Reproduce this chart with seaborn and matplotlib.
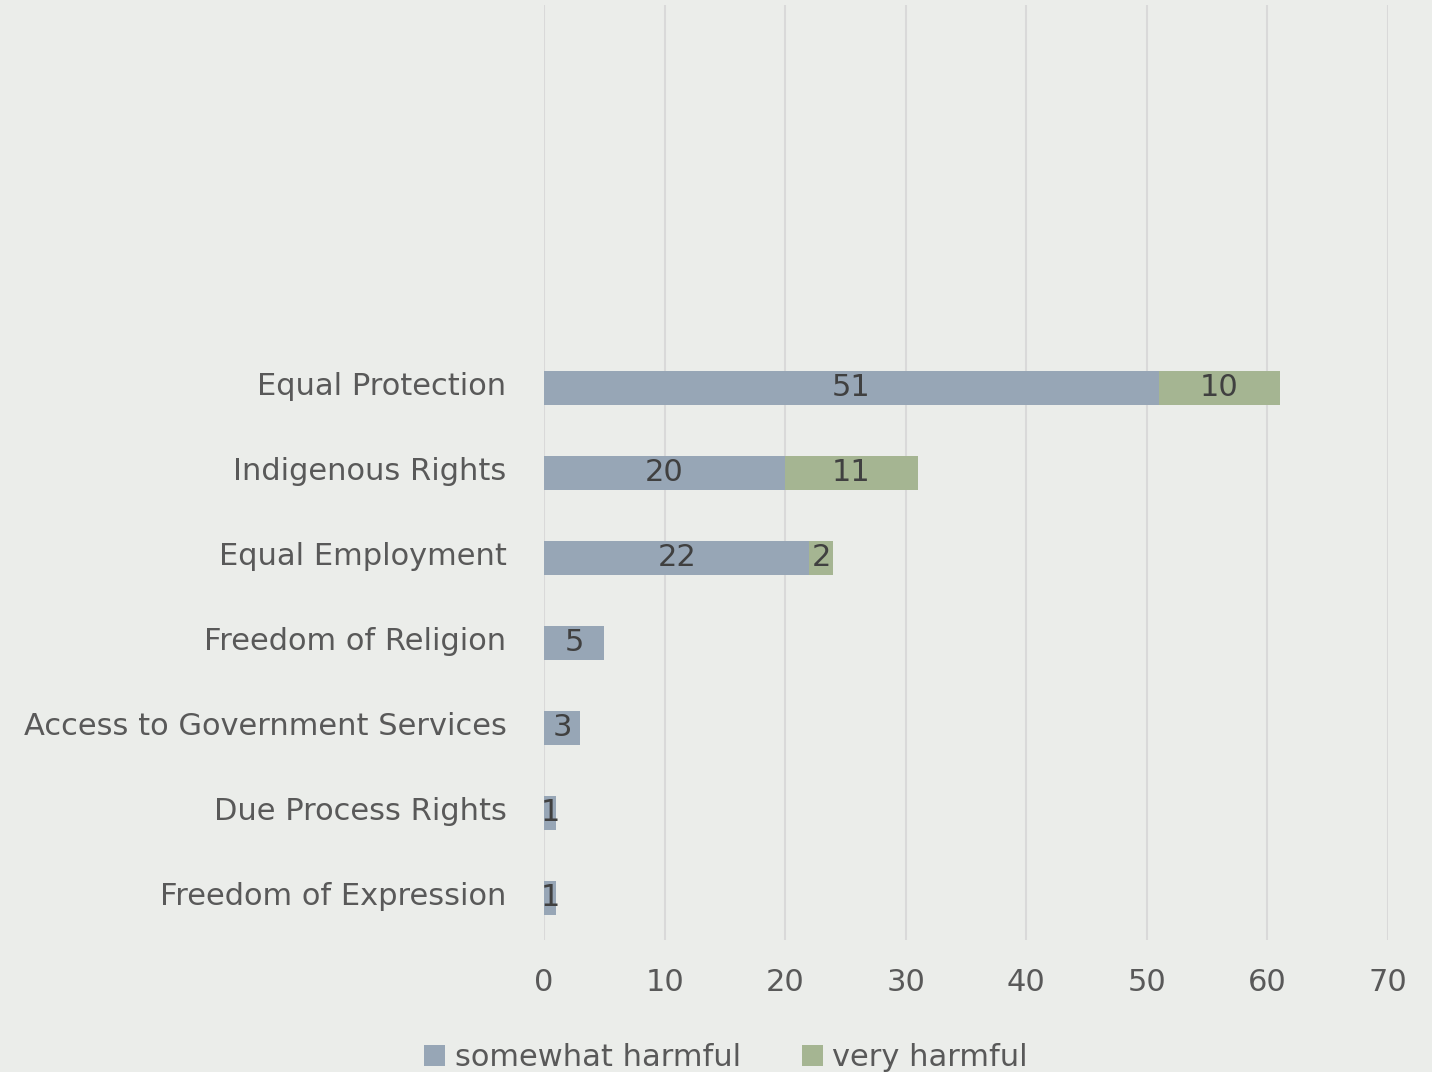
import matplotlib
matplotlib.use("Agg")
import matplotlib.pyplot as plt
import matplotlib.transforms as mtransforms
import seaborn as sns
import pandas as pd
from matplotlib.patches import Patch

categories = ["Equal Protection", "Indigenous Rights", "Equal Employment",
              "Freedom of Religion", "Access to Government Services",
              "Due Process Rights", "Freedom of Expression"]
somewhat_harmful = [51, 20, 22, 5, 3, 1, 1]
very_harmful = [10, 11, 2, 0, 0, 0, 0]
x_ticks = [0, 10, 20, 30, 40, 50, 60, 70]

BG = "#EBEDEA"
BLUE = "#97A6B6"
GREEN = "#A5B592"
TICK_C = "#595959"
LAB_C = "#404040"
FS = 22

sns.set_theme(style="white")
plt.rcParams['font.family'] = ['Verdana', 'DejaVu Sans']

df = pd.DataFrame({"category": categories,
                   "somewhat": somewhat_harmful,
                   "very": very_harmful})
df["total"] = df["somewhat"] + df["very"]

fig = plt.figure(figsize=(14.32, 10.72), dpi=100, facecolor=BG)
ax = fig.add_axes([0.3799, 0.1231, 0.5894, 0.8722])
ax.set_facecolor(BG)

for xv in x_ticks:
    ax.axvline(xv, color="#D9D9D9", lw=1.5, zorder=0)

sns.barplot(data=df, y="category", x="total", order=categories, color=GREEN,
            width=0.4, orient="h", ax=ax, saturation=1, zorder=2, linewidth=0)
sns.barplot(data=df, y="category", x="somewhat", order=categories, color=BLUE,
            width=0.4, orient="h", ax=ax, saturation=1, zorder=3, linewidth=0)

for i, (s, v) in enumerate(zip(somewhat_harmful, very_harmful)):
    if s > 0:
        ax.text(s / 2, i, str(s), ha="center", va="center", fontsize=FS,
                color=LAB_C, zorder=5)
    if v > 0:
        ax.text(s + v / 2, i, str(v), ha="center", va="center", fontsize=FS,
                color=LAB_C, zorder=5)

ax.set_xlim(0, 70)
ax.set_ylim(6.5, -4.5)
ax.set_xticks(x_ticks)
ax.set_xticklabels([str(t) for t in x_ticks])
ax.set_xlabel("")
ax.set_ylabel("")
ax.tick_params(axis="x", length=0, pad=20, labelsize=FS, labelcolor=TICK_C)
ax.tick_params(axis="y", length=0, pad=27, labelsize=FS, labelcolor=TICK_C)
offset = mtransforms.ScaledTranslation(0, 4 / 100, fig.dpi_scale_trans)
for lbl in ax.get_yticklabels():
    lbl.set_transform(lbl.get_transform() + offset)
for sp in ax.spines.values():
    sp.set_visible(False)

handles = [Patch(facecolor=BLUE, edgecolor="none", label="somewhat harmful"),
           Patch(facecolor=GREEN, edgecolor="none", label="very harmful")]
leg = fig.legend(handles=handles, loc="lower center", ncol=2,
                 bbox_to_anchor=(0.507, -0.026), frameon=False, fontsize=FS,
                 handlelength=0.7, handleheight=0.7, handletextpad=0.3,
                 columnspacing=2.0)
for t in leg.get_texts():
    t.set_color(TICK_C)

fig.savefig("out.png", dpi=100, facecolor=BG)
